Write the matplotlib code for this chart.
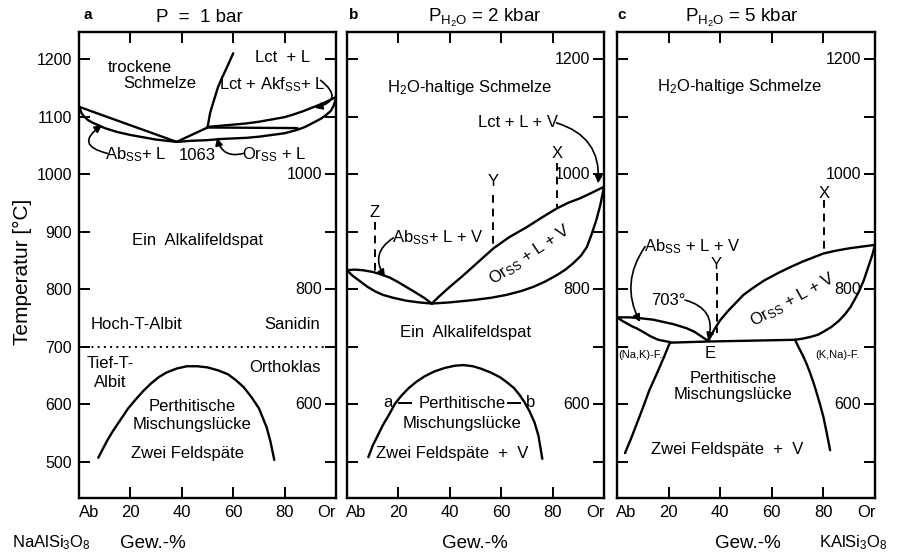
import matplotlib
matplotlib.use("Agg")
import matplotlib.pyplot as plt
import matplotlib.transforms as mtrans

plt.rcParams['font.family'] = ['Liberation Sans', 'DejaVu Sans']
plt.rcParams['mathtext.fontset'] = 'custom'
plt.rcParams['mathtext.rm'] = 'Liberation Sans'
plt.rcParams['mathtext.it'] = 'Liberation Sans:italic'
plt.rcParams['mathtext.default'] = 'regular'

# ---- data: composition (Gew.-% Or) vs. temperature (°C) ----
# a: P = 1 bar
a_ab_liq_x = [0, 38]
a_ab_liq_t = [1117, 1056]
a_ab_sol_x = [0, 1, 2, 3.5, 5, 7.5, 10, 15, 20, 25, 30, 34, 38]
a_ab_sol_t = [1117, 1106, 1100, 1094, 1090, 1085, 1080, 1073, 1068, 1064, 1060, 1058, 1056]
a_min_per_x = [38, 50]
a_min_per_t = [1056, 1081]
a_lct_liq_x = [50, 50.5, 51, 52, 52.9, 54, 55.5, 57.5, 60]
a_lct_liq_t = [1081, 1093, 1106, 1121, 1134, 1150, 1166, 1185, 1210]
a_lct_sol_x = [50, 55, 60, 65, 70, 75, 80, 83, 87, 91, 95, 100]
a_lct_sol_t = [1082, 1084, 1086, 1088, 1091, 1095, 1099, 1103, 1109, 1116, 1123, 1134]
a_per_x = [50, 85]
a_per_t = [1081, 1080]
a_or_sol_x = [38, 44, 50, 55, 60, 65, 70, 75, 80, 85, 88, 91, 94, 96, 98, 99, 100]
a_or_sol_t = [1056, 1058, 1059, 1061, 1062, 1063, 1065, 1068, 1071, 1077, 1082, 1089,
              1096, 1102, 1110, 1118, 1132]
a_solvus_x = [7.5, 9, 11, 13, 16, 19, 22, 25, 28, 31, 34, 38, 42, 46, 50, 54, 58, 61,
              64, 67, 70, 73, 74.5, 76]
a_solvus_t = [507, 520, 537, 552, 572, 592, 608, 623, 636, 647, 655, 662, 666, 666, 664,
              659, 652, 642, 630, 613, 593, 560, 535, 503]
a_inversion_t = 700

# b: P_H2O = 2 kbar
b_ab_liq_x = [0, 3, 6, 10, 13, 16.7, 20, 23, 26, 30, 33]
b_ab_liq_t = [833, 834, 833, 830, 826, 820, 812, 804, 796, 785, 775]
b_ab_sol_x = [0, 2, 5, 8, 11, 14, 18, 23, 28, 33]
b_ab_sol_t = [833, 824, 814, 804, 796, 790, 785, 780, 777, 775]
b_or_liq_x = [33, 36, 40, 45, 49, 53, 57, 63, 70, 76, 81.5, 86, 90.7, 95, 100]
b_or_liq_t = [775, 788, 804, 823, 839, 855, 871, 890, 908, 925, 940, 950, 958, 967, 978]
b_or_sol_x = [33, 40, 49, 56, 62, 68, 72.5, 77, 81.5, 85, 88, 91, 93.3, 95, 97, 98.5, 100]
b_or_sol_t = [775, 777, 781, 785, 790, 797, 804, 813, 824, 834, 845, 858, 873, 893, 920,
              945, 978]
b_solvus_x = [8.3, 10, 12, 14, 16.5, 18.7, 21, 24, 27, 30, 34, 38, 42, 45.3, 49, 52, 56,
              59.5, 62, 65, 67, 69, 71, 73, 74.5, 76]
b_solvus_t = [508, 528, 546, 564, 583, 601, 614, 628, 639, 648, 657, 663, 667, 668, 666,
              662, 655, 647, 639, 628, 617, 604, 588, 568, 545, 505]
b_dash_x = [10.9, 57, 81.6]          # Z, Y, X
b_dash_top = [917, 963, 1020]
b_dash_bot = [832, 871, 943]

# c: P_H2O = 5 kbar
c_ab_liq_x = [0, 5, 10, 14, 18, 22, 27, 30, 32, 34, 35.4]
c_ab_liq_t = [751, 751, 749, 747, 743, 739, 732, 726, 720, 714, 710]
c_ab_sol_x = [0, 2, 4, 6, 7.6, 10, 13, 16, 20.5]
c_ab_sol_t = [751, 745, 740, 735, 732, 726, 718, 712, 708]
c_eut_x = [20.5, 35.4, 69]
c_eut_t = [707, 709, 712]
c_or_liq_x = [35.4, 36.5, 38, 40, 43, 46, 49, 53, 57, 62, 67, 72, 76, 80, 85, 90, 95, 100]
c_or_liq_t = [710, 720, 732, 746, 762, 776, 790, 803, 815, 827, 838, 848, 855, 862, 867,
              871, 874, 877]
c_or_sol_x = [69, 72, 75, 78, 80, 83, 86, 88.5, 90.5, 92.5, 94, 95.7, 97.5, 99, 100]
c_or_sol_t = [712, 714, 717, 721, 726, 734, 745, 757, 769, 785, 798, 816, 840, 860, 877]
c_solvus_l_x = [20.5, 18.3, 16, 14.2, 12.5, 10.3, 8, 5.6, 3.1]
c_solvus_l_t = [707, 683, 659, 641, 624, 597, 570, 542, 515]
c_solvus_r_x = [69, 70.5, 72, 73.5, 74.8, 76.2, 77.5, 78.8, 80, 81.3, 82.6]
c_solvus_r_t = [712, 698, 685, 670, 655, 637, 618, 598, 578, 550, 520]
c_dash_x = [80.3, 38.6]              # X, Y
c_dash_top = [955, 828]
c_dash_bot = [862, 723]

x_ticks = [0, 20, 40, 60, 80, 100]
x_labels = ['Ab', '20', '40', '60', '80', 'Or']
y_ticks = [500, 600, 700, 800, 900, 1000, 1100, 1200]

W, H = 901, 556
fig = plt.figure(figsize=(W / 100, H / 100), dpi=100)

LW = 1.7
FS = 12


def make_ax(left_px, right_px):
    ax = fig.add_axes([left_px / W, 1 - 498 / H, (right_px - left_px) / W, 466 / H])
    ax.set_xlim(0, 100)
    ax.set_ylim(437, 1247)
    ax.set_xticks(x_ticks)
    ax.set_xticklabels(x_labels, fontsize=12)
    ax.set_yticks(y_ticks)
    ax.tick_params(direction='in', length=8, width=1.4, top=True, right=True,
                   labelleft=False, pad=5)
    for s in ax.spines.values():
        s.set_linewidth(LW)
    for t in ax.xaxis.get_major_ticks():
        if t.get_loc() in (0, 100):
            t.tick1line.set_visible(False)
            t.tick2line.set_visible(False)
    # end labels (Ab / Or) sit inside the panel edges
    lbls = ax.get_xticklabels()
    lbls[0].set_horizontalalignment('left')
    lbls[0].set_transform(lbls[0].get_transform() +
                          mtrans.ScaledTranslation(-1 / 100, 0, fig.dpi_scale_trans))
    lbls[-1].set_horizontalalignment('right')
    lbls[-1].set_transform(lbls[-1].get_transform() +
                           mtrans.ScaledTranslation(1 / 100, 0, fig.dpi_scale_trans))
    return ax


def line(ax, x, t, **kw):
    ax.plot(x, t, color='black', lw=LW, solid_capstyle='round',
            solid_joinstyle='round', **kw)


def arrow(ax, start, tip, rad):
    ax.annotate('', xy=tip, xytext=start,
                arrowprops=dict(arrowstyle='-|>', color='black', lw=1.2,
                                mutation_scale=11, shrinkA=0, shrinkB=0,
                                connectionstyle='arc3,rad=%s' % rad))


def right_labels(ax, vals):
    for v in vals:
        ax.text(94.5, v, str(v), ha='right', va='center', fontsize=11.5)


# ---------------- panel a ----------------
ax = make_ax(79, 336)
ax.tick_params(labelleft=True, pad=5)
ax.set_yticklabels([str(v) for v in y_ticks], fontsize=11.5)
line(ax, a_ab_liq_x, a_ab_liq_t)
line(ax, a_ab_sol_x, a_ab_sol_t)
line(ax, a_min_per_x, a_min_per_t)
line(ax, a_lct_liq_x, a_lct_liq_t)
line(ax, a_lct_sol_x, a_lct_sol_t)
line(ax, a_per_x, a_per_t)
line(ax, a_or_sol_x, a_or_sol_t)
line(ax, a_solvus_x, a_solvus_t)
ax.plot([0, 100], [a_inversion_t, a_inversion_t], color='black', lw=1.4,
        linestyle=(0, (1, 2.2)))
right_labels(ax, [1000, 800, 600])

ax.text(23.7, 1186, 'trockene', ha='center', va='center', fontsize=FS)
ax.text(31.5, 1158, 'Schmelze', ha='center', va='center', fontsize=FS)
ax.text(79.4, 1202, 'Lct  + L', ha='center', va='center', fontsize=FS)
ax.text(75, 1155, r'Lct + Akf$_{SS}$+ L', ha='center', va='center', fontsize=FS)
ax.text(22, 1033, r'Ab$_{SS}$+ L', ha='center', va='center', fontsize=FS)
ax.text(46, 1033, '1063', ha='center', va='center', fontsize=FS)
ax.text(76, 1033, r'Or$_{SS}$ + L', ha='center', va='center', fontsize=FS)
arrow(ax, (94, 1163), (91.8, 1115), -1.0)
arrow(ax, (11, 1036), (9, 1085), -1.1)
arrow(ax, (64, 1036), (53.7, 1063), -0.5)
ax.text(46, 885, 'Ein  Alkalifeldspat', ha='center', va='center', fontsize=FS)
ax.text(22.5, 739, 'Hoch-T-Albit', ha='center', va='center', fontsize=FS)
ax.text(83, 739, 'Sanidin', ha='center', va='center', fontsize=FS)
ax.text(12, 671, 'Tief-T-', ha='center', va='center', fontsize=FS)
ax.text(12, 638, 'Albit', ha='center', va='center', fontsize=FS)
ax.text(80, 663, 'Orthoklas', ha='center', va='center', fontsize=FS)
ax.text(44, 596, 'Perthitische', ha='center', va='center', fontsize=FS)
ax.text(44, 565, 'Mischungslücke', ha='center', va='center', fontsize=FS)
ax.text(42.4, 515, 'Zwei Feldspäte', ha='center', va='center', fontsize=FS)

# ---------------- panel b ----------------
ax = make_ax(347, 604)
line(ax, b_ab_liq_x, b_ab_liq_t)
line(ax, b_ab_sol_x, b_ab_sol_t)
line(ax, b_or_liq_x, b_or_liq_t)
line(ax, b_or_sol_x, b_or_sol_t)
line(ax, b_solvus_x, b_solvus_t)
for x, t0, t1 in zip(b_dash_x, b_dash_top, b_dash_bot):
    ax.plot([x, x], [t0, t1], color='black', lw=1.4, linestyle=(0, (4, 3)))
right_labels(ax, [1200, 1000, 800, 600])

ax.text(47.9, 1151, r'H$_2$O-haltige Schmelze', ha='center', va='center', fontsize=FS)
ax.text(66.5, 1089, 'Lct + L + V', ha='center', va='center', fontsize=FS)
arrow(ax, (81.5, 1089), (97.7, 984), -0.4)
ax.text(10.9, 934, 'Z', ha='center', va='center', fontsize=FS)
ax.text(57, 987, 'Y', ha='center', va='center', fontsize=FS)
ax.text(81.6, 1036, 'X', ha='center', va='center', fontsize=FS)
ax.text(35.4, 889, r'Ab$_{SS}$+ L + V', ha='center', va='center', fontsize=FS)
arrow(ax, (18, 889), (14.8, 821), 0.5)
ax.text(71.2, 859, r'Or$_{SS}$ + L + V', ha='center', va='center', fontsize=FS,
        rotation=34, rotation_mode='anchor')
ax.text(46.3, 725, 'Ein  Alkalifeldspat', ha='center', va='center', fontsize=FS)
ax.text(16, 603, 'a', ha='center', va='center', fontsize=FS)
ax.text(71.5, 603, 'b', ha='center', va='center', fontsize=FS)
ax.plot([20.4, 24.9], [602, 602], color='black', lw=1.4)
ax.plot([62.8, 67.4], [602, 602], color='black', lw=1.4)
ax.text(44.7, 602, 'Perthitische', ha='center', va='center', fontsize=FS)
ax.text(44.7, 567, 'Mischungslücke', ha='center', va='center', fontsize=FS)
ax.text(40.9, 515, 'Zwei Feldspäte  +  V', ha='center', va='center', fontsize=FS)

# ---------------- panel c ----------------
ax = make_ax(617, 875)
line(ax, c_ab_liq_x, c_ab_liq_t)
line(ax, c_ab_sol_x, c_ab_sol_t)
line(ax, c_eut_x, c_eut_t)
line(ax, c_or_liq_x, c_or_liq_t)
line(ax, c_or_sol_x, c_or_sol_t)
line(ax, c_solvus_l_x, c_solvus_l_t)
line(ax, c_solvus_r_x, c_solvus_r_t)
for x, t0, t1 in zip(c_dash_x, c_dash_top, c_dash_bot):
    ax.plot([x, x], [t0, t1], color='black', lw=1.4, linestyle=(0, (4, 3)))
right_labels(ax, [1200, 1000, 800, 600])

ax.text(47.7, 1153, r'H$_2$O-haltige Schmelze', ha='center', va='center', fontsize=FS)
ax.text(80.3, 966, 'X', ha='center', va='center', fontsize=FS)
ax.text(38.6, 843, 'Y', ha='center', va='center', fontsize=FS)
ax.text(29, 874, r'Ab$_{SS}$ + L + V', ha='center', va='center', fontsize=FS)
arrow(ax, (10.9, 874), (8.9, 743), 0.3)
ax.text(19.8, 781, '703°', ha='center', va='center', fontsize=FS)
arrow(ax, (26.4, 781), (35.3, 711), -0.5)
ax.text(68.2, 781, r'Or$_{SS}$ + L + V', ha='center', va='center', fontsize=FS,
        rotation=29, rotation_mode='anchor')
ax.text(36, 689, 'E', ha='center', va='center', fontsize=FS)
ax.text(8.9, 685, '(Na,K)-F.', ha='center', va='center', fontsize=8)
ax.text(85.3, 685, '(K,Na)-F.', ha='center', va='center', fontsize=8)
ax.text(45, 645, 'Perthitische', ha='center', va='center', fontsize=FS)
ax.text(45, 617, 'Mischungslücke', ha='center', va='center', fontsize=FS)
ax.text(42.6, 522, 'Zwei Feldspäte  +  V', ha='center', va='center', fontsize=FS)

# ---------------- titles and outer labels ----------------
fig.text(83 / W, 1 - 15 / H, 'a', fontsize=11, fontweight='bold', ha='left', va='center')
fig.text(349 / W, 1 - 15 / H, 'b', fontsize=11, fontweight='bold', ha='left', va='center')
fig.text(617 / W, 1 - 15 / H, 'c', fontsize=11, fontweight='bold', ha='left', va='center')
fig.text(199 / W, 1 - 18 / H, 'P  =  1 bar', fontsize=13.5, ha='center', va='center')
fig.text(485 / W, 1 - 18 / H, r'P$_{H_2O}$ = 2 kbar', fontsize=13.5, ha='center', va='center')
fig.text(742 / W, 1 - 18 / H, r'P$_{H_2O}$ = 5 kbar', fontsize=13.5, ha='center', va='center')
fig.text(22 / W, 1 - 272 / H, 'Temperatur [°C]', fontsize=15, rotation=90,
         ha='center', va='center')
fig.text(51 / W, 1 - 543 / H, r'NaAlSi$_3$O$_8$', fontsize=12, ha='center', va='center')
fig.text(153 / W, 1 - 543 / H, 'Gew.-%', fontsize=13.5, ha='center', va='center')
fig.text(475 / W, 1 - 543 / H, 'Gew.-%', fontsize=13.5, ha='center', va='center')
fig.text(748 / W, 1 - 543 / H, 'Gew.-%', fontsize=13.5, ha='center', va='center')
fig.text(853 / W, 1 - 543 / H, r'KAlSi$_3$O$_8$', fontsize=12, ha='center', va='center')

fig.savefig('out.png', dpi=100)
